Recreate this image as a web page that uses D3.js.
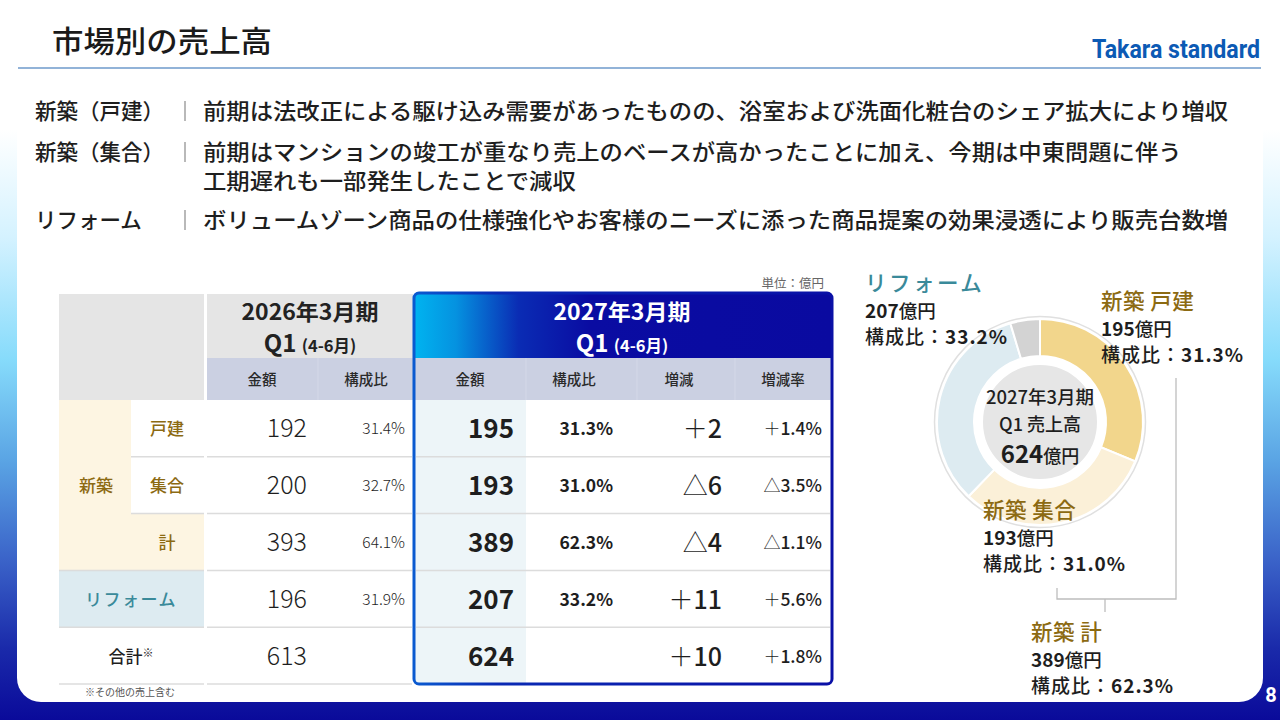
<!DOCTYPE html>
<html><head><meta charset="utf-8">
<script src="https://cdn.jsdelivr.net/npm/d3@7"></script>
<style>
body{margin:0;background:#fff}
svg{display:block}
text{font-family:"Noto Sans CJK JP","Noto Sans",sans-serif}
</style>
</head><body>
<svg id="c" width="1280" height="720"></svg>
<script>
// ---------------- data ----------------
const pageTitle = "市場別の売上高";
const brand = "Takara standard";
const pageNo = "8";
const commentLabels = ["新築（戸建）", "新築（集合）", "リフォーム"];
const commentTexts = [
  ["前期は法改正による駆け込み需要があったものの、浴室および洗面化粧台のシェア拡大により増収"],
  ["前期はマンションの竣工が重なり売上のベースが高かったことに加え、今期は中東問題に伴う", "工期遅れも一部発生したことで減収"],
  ["ボリュームゾーン商品の仕様強化やお客様のニーズに添った商品提案の効果浸透により販売台数増"]
];
const unitLabel = "単位：億円";
const prevPeriod = ["2026年3月期", "Q1", "(4-6月)"];
const curPeriod = ["2027年3月期", "Q1", "(4-6月)"];
const prevColumns = ["金額", "構成比"];
const curColumns = ["金額", "構成比", "増減", "増減率"];
const rowKeys = ["戸建", "集合", "計", "リフォーム", "合計"];
const groupLabel = "新築";
const prevAmount = [192, 200, 393, 196, 613];
const prevShare = ["31.4%", "32.7%", "64.1%", "31.9%", ""];
const curAmount = [195, 193, 389, 207, 624];
const curShare = ["31.3%", "31.0%", "62.3%", "33.2%", ""];
const changeSign = ["＋", "△", "△", "＋", "＋"];
const changeValue = ["2", "6", "4", "11", "10"];
const rateSign = ["＋", "△", "△", "＋", "＋"];
const rateValue = ["1.4%", "3.5%", "1.1%", "5.6%", "1.8%"];
const footnote = "※その他の売上含む";

const donutNames = ["新築 戸建", "新築 集合", "リフォーム", "その他"];
const donutValues = [195, 193, 207, 29];
const donutShares = ["31.3%", "31.0%", "33.2%", ""];
const donutColors = ["#f2d68c", "#fbf0d8", "#ddebf1", "#d3d3d3"];
const centerLines = ["2027年3月期", "Q1 売上高"];
const centerTotal = 624;
const newBuildTotal = ["新築 計", 389, "62.3%"];

// ---------------- helpers ----------------
const svg = d3.select("#c");
const defs = svg.append("defs");
const GOLD = "#8c6a12", TEAL = "#3a8a9a", INK = "#1e1e1e";

const bg = defs.append("linearGradient").attr("id", "bg").attr("x1", 0).attr("y1", 0).attr("x2", 0).attr("y2", 1);
[[0, "#ffffff"], [0.18, "#ffffff"], [0.33, "#d4f2ff"], [0.5, "#86dbfb"], [0.64, "#5aa4e4"], [0.78, "#3a62c8"], [0.9, "#1a2aaa"], [1, "#0a0a9a"]]
  .forEach(([o, c]) => bg.append("stop").attr("offset", o).attr("stop-color", c));
const hg = defs.append("linearGradient").attr("id", "hg").attr("x1", 0).attr("y1", 0).attr("x2", 1).attr("y2", 0);
[[0, "#00b4f0"], [0.1, "#0592e0"], [0.25, "#0a2cb4"], [0.42, "#0a0ca2"], [1, "#0a0aa0"]]
  .forEach(([o, c]) => hg.append("stop").attr("offset", o).attr("stop-color", c));
const bg2 = defs.append("linearGradient").attr("id", "bd").attr("x1", 0).attr("y1", 0).attr("x2", 1).attr("y2", 0);
[[0, "#0a5ad0"], [0.2, "#0a2ab4"], [1, "#0a10a6"]]
  .forEach(([o, c]) => bg2.append("stop").attr("offset", o).attr("stop-color", c));

// background + panel
svg.append("rect").attr("width", 1280).attr("height", 720).attr("fill", "url(#bg)");
svg.append("rect").attr("x", 17).attr("y", -40).attr("width", 1246).attr("height", 742).attr("rx", 24).attr("fill", "#fff");
svg.append("text").attr("x", 1271).attr("y", 702).attr("text-anchor", "middle")
  .style("font-family", "Roboto, 'Liberation Sans', sans-serif")
  .attr("font-size", 20).attr("font-weight", 700).attr("fill", "#fff").text(pageNo);

// header
svg.append("text").attr("x", 52).attr("y", 52).attr("font-size", 30).attr("font-weight", 500)
  .attr("fill", "#1a1a1a").attr("textLength", 220).attr("lengthAdjust", "spacingAndGlyphs").text(pageTitle);
svg.append("text").attr("x", 1092).attr("y", 58)
  .style("font-family", "Roboto, 'Liberation Sans', sans-serif")
  .attr("font-size", 25).attr("font-weight", 700).attr("fill", "#0c5ab4")
  .attr("textLength", 168).attr("lengthAdjust", "spacingAndGlyphs").text(brand);
svg.append("line").attr("x1", 18).attr("x2", 1261).attr("y1", 68).attr("y2", 68)
  .attr("stroke", "#92b3d8").attr("stroke-width", 2);

// comments
const lineY = [[111], [152, 181], [220]];
commentLabels.forEach((lab, i) => {
  svg.append("text").attr("x", 35).attr("y", lineY[i][0] + 8).attr("font-size", 21.5).attr("font-weight", 500)
    .attr("fill", INK).text(lab);
  svg.append("line").attr("x1", 185).attr("x2", 185).attr("y1", lineY[i][0] - 10).attr("y2", lineY[i][0] + 10)
    .attr("stroke", "#8a8a8a").attr("stroke-width", 1.2);
  commentTexts[i].forEach((t, j) => {
    svg.append("text").attr("x", 203).attr("y", lineY[i][j] + 8).attr("font-size", 21.5)
      .attr("font-weight", 500).attr("fill", INK)
      .attr("textLength", t.length * 23.3).attr("lengthAdjust", "spacingAndGlyphs").text(t);
  });
});

// ---------------- table ----------------
const y = d3.scaleBand().domain(rowKeys).range([400, 684]);
const yc = k => y(k) + y.bandwidth() / 2;

svg.append("rect").attr("x", 59).attr("y", 294).attr("width", 145).attr("height", 106).attr("fill", "#e5e5e5");
svg.append("rect").attr("x", 207).attr("y", 294).attr("width", 206).attr("height", 64).attr("fill", "#e5e5e5");
svg.append("rect").attr("x", 207).attr("y", 358).attr("width", 206).attr("height", 42).attr("fill", "#cbd0e2");
svg.append("line").attr("x1", 318).attr("x2", 318).attr("y1", 358).attr("y2", 400).attr("stroke", "#d4d8e8").attr("stroke-width", 1);

svg.append("rect").attr("x", 59).attr("y", y("戸建")).attr("width", 72).attr("height", y.bandwidth() * 3).attr("fill", "#fdf5e2");
svg.append("rect").attr("x", 131).attr("y", y("計")).attr("width", 73).attr("height", y.bandwidth()).attr("fill", "#fdf5e2");
svg.append("rect").attr("x", 59).attr("y", y("リフォーム")).attr("width", 145).attr("height", y.bandwidth()).attr("fill", "#ddebf1");

svg.append("rect").attr("x", 414).attr("y", 293).attr("width", 418).attr("height", 66).attr("rx", 5).attr("fill", "url(#hg)");
svg.append("rect").attr("x", 414).attr("y", 352).attr("width", 418).attr("height", 8).attr("fill", "url(#hg)");
svg.append("rect").attr("x", 415).attr("y", 358).attr("width", 416).attr("height", 42).attr("fill", "#cbd0e2");
svg.append("rect").attr("x", 415).attr("y", 400).attr("width", 111).attr("height", 283).attr("fill", "#edf5f8");
[526, 637, 735].forEach(xv => svg.append("line").attr("x1", xv).attr("x2", xv).attr("y1", 358).attr("y2", 400)
  .attr("stroke", "#d4d8e8").attr("stroke-width", 1));

rowKeys.forEach((k, i) => {
  const yy = y(k) + y.bandwidth();
  const x0 = (i < 2) ? 131 : 59;
  svg.append("line").attr("x1", x0).attr("x2", 204).attr("y1", yy).attr("y2", yy).attr("stroke", "#dcdcdc").attr("stroke-width", 1.5);
  svg.append("line").attr("x1", 207).attr("x2", 412).attr("y1", yy).attr("y2", yy).attr("stroke", "#dcdcdc").attr("stroke-width", 1.5);
  if (i < 4) svg.append("line").attr("x1", 416).attr("x2", 830).attr("y1", yy).attr("y2", yy).attr("stroke", "#dcdcdc").attr("stroke-width", 1.5);
});

svg.append("rect").attr("x", 414).attr("y", 293).attr("width", 418).attr("height", 391).attr("rx", 5)
  .attr("fill", "none").attr("stroke", "url(#bd)").attr("stroke-width", 3);

svg.append("text").attr("x", 824).attr("y", 288).attr("text-anchor", "end").attr("font-size", 12.5)
  .attr("fill", "#666").text(unitLabel);

function periodHeader(cx, p, col) {
  svg.append("text").attr("x", cx).attr("y", 320).attr("text-anchor", "middle").attr("font-size", 22)
    .attr("font-weight", 700).attr("fill", col).attr("textLength", 137).attr("lengthAdjust", "spacingAndGlyphs").text(p[0]);
  const t = svg.append("text").attr("x", cx).attr("y", 352).attr("text-anchor", "middle").attr("fill", col).attr("font-weight", 700);
  t.append("tspan").attr("font-size", 24).text(p[1] + " ");
  t.append("tspan").attr("font-size", 16.5).text(p[2]);
}
periodHeader(310, prevPeriod, "#222");
periodHeader(622, curPeriod, "#fff");

const prevColX = d3.scaleOrdinal().domain(prevColumns).range([262, 366]);
const curColX = d3.scaleOrdinal().domain(curColumns).range([470, 574, 679, 783]);
prevColumns.forEach(c => svg.append("text").attr("x", prevColX(c)).attr("y", 385).attr("text-anchor", "middle")
  .attr("font-size", 14.5).attr("font-weight", 500).attr("fill", "#2a2a2a").text(c));
curColumns.forEach(c => svg.append("text").attr("x", curColX(c)).attr("y", 385).attr("text-anchor", "middle")
  .attr("font-size", 14.5).attr("font-weight", 500).attr("fill", "#2a2a2a").text(c));

svg.append("text").attr("x", 96).attr("y", yc("集合") + 7).attr("text-anchor", "middle").attr("font-size", 17)
  .attr("font-weight", 500).attr("fill", GOLD).text(groupLabel);
["戸建", "集合", "計"].forEach(k => svg.append("text").attr("x", 167).attr("y", yc(k) + 7).attr("text-anchor", "middle")
  .attr("font-size", 17).attr("font-weight", 500).attr("fill", GOLD).text(k));
svg.append("text").attr("x", 131).attr("y", yc("リフォーム") + 7).attr("text-anchor", "middle").attr("font-size", 17)
  .attr("font-weight", 500).attr("fill", TEAL).attr("letter-spacing", 1.5).text("リフォーム");
const tt = svg.append("text").attr("x", 131).attr("y", yc("合計") + 7).attr("text-anchor", "middle")
  .attr("font-weight", 500).attr("fill", INK);
tt.append("tspan").attr("font-size", 17).text("合計");
tt.append("tspan").attr("font-size", 11).attr("dy", -6).text("※");

const prevRight = d3.scaleOrdinal().domain(prevColumns).range([307, 405]);
const curRight = d3.scaleOrdinal().domain(curColumns).range([514, 613, 722, 822]);
rowKeys.forEach((k, i) => {
  const cy = yc(k);
  svg.append("text").attr("x", prevRight("金額")).attr("y", cy + 9).attr("text-anchor", "end")
    .attr("font-size", 25).attr("font-weight", 300).attr("fill", INK).text(prevAmount[i]);
  svg.append("text").attr("x", prevRight("構成比")).attr("y", cy + 6).attr("text-anchor", "end")
    .attr("font-size", 15.5).attr("font-weight", 300).attr("fill", INK).text(prevShare[i]);
  svg.append("text").attr("x", curRight("金額")).attr("y", cy + 10).attr("text-anchor", "end")
    .attr("font-size", 26).attr("font-weight", 700).attr("fill", INK).text(curAmount[i]);
  svg.append("text").attr("x", curRight("構成比")).attr("y", cy + 7).attr("text-anchor", "end")
    .attr("font-size", 17.5).attr("font-weight", 700).attr("fill", INK).text(curShare[i]);
  const c = svg.append("text").attr("x", curRight("増減")).attr("y", cy + 10).attr("text-anchor", "end").attr("fill", INK);
  c.append("tspan").attr("font-size", 25).attr("font-weight", 300).text(changeSign[i]);
  c.append("tspan").attr("font-size", 25).attr("font-weight", 500).text(changeValue[i]);
  const r = svg.append("text").attr("x", curRight("増減率")).attr("y", cy + 7).attr("text-anchor", "end").attr("fill", INK);
  r.append("tspan").attr("font-size", 17).attr("font-weight", 300).text(rateSign[i]);
  r.append("tspan").attr("font-size", 17.5).attr("font-weight", 500).text(rateValue[i]);
});
svg.append("text").attr("x", 85).attr("y", 696).attr("font-size", 10).attr("fill", "#555").text(footnote);

// ---------------- donut ----------------
const cx = 1040, cyD = 422;
const g = svg.append("g").attr("transform", `translate(${cx},${cyD})`);
g.append("circle").attr("r", 105.5).attr("fill", "#fff").attr("stroke", "#e0e0e0").attr("stroke-width", 1.5);
const pie = d3.pie().sort(null).value(d => d);
const arc = d3.arc().innerRadius(66).outerRadius(103);
g.selectAll("path.s").data(pie(donutValues)).join("path").attr("class", "s")
  .attr("d", arc).attr("fill", (d, i) => donutColors[i]).attr("stroke", "#fff").attr("stroke-width", 2);
g.append("circle").attr("r", 58).attr("fill", "#e6e6e6").attr("stroke", "#fff").attr("stroke-width", 2);
g.append("text").attr("y", -18).attr("text-anchor", "middle").attr("font-size", 18).attr("font-weight", 500)
  .attr("fill", INK).attr("textLength", 108).attr("lengthAdjust", "spacingAndGlyphs").text(centerLines[0]);
g.append("text").attr("y", 9).attr("text-anchor", "middle").attr("font-size", 18).attr("font-weight", 500)
  .attr("fill", INK).text(centerLines[1]);
const ct = g.append("text").attr("y", 41).attr("text-anchor", "middle").attr("fill", INK);
ct.append("tspan").attr("font-size", 24).attr("font-weight", 700).text(centerTotal);
ct.append("tspan").attr("font-size", 18).attr("font-weight", 500).text("億円");

function donutLabel(x, yTop, name, value, share, color) {
  svg.append("text").attr("x", x).attr("y", yTop).attr("font-size", 21.5).attr("font-weight", 500)
    .attr("fill", color).attr("letter-spacing", name === "リフォーム" ? 2.5 : 0.5).text(name);
  const v = svg.append("text").attr("x", x).attr("y", yTop + 27).attr("fill", INK);
  v.append("tspan").attr("font-size", 19).attr("font-weight", 700).text(value);
  v.append("tspan").attr("font-size", 18.5).attr("font-weight", 500).text("億円");
  const s = svg.append("text").attr("x", x).attr("y", yTop + 53).attr("fill", INK).attr("letter-spacing", 1);
  s.append("tspan").attr("font-size", 19).attr("font-weight", 500).text("構成比：");
  s.append("tspan").attr("font-size", 19).attr("font-weight", 700).text(share);
}
donutLabel(865, 291, donutNames[2], donutValues[2], donutShares[2], TEAL);
donutLabel(1101, 309, donutNames[0], donutValues[0], donutShares[0], GOLD);
donutLabel(983, 518, donutNames[1], donutValues[1], donutShares[1], GOLD);
donutLabel(1031, 640, newBuildTotal[0], newBuildTotal[1], newBuildTotal[2], GOLD);

const br = d3.path();
br.moveTo(1176, 378); br.lineTo(1176, 599); br.lineTo(1057, 599); br.lineTo(1057, 588);
br.moveTo(1105, 599); br.lineTo(1105, 612);
svg.append("path").attr("d", br.toString()).attr("fill", "none").attr("stroke", "#bdbdbd").attr("stroke-width", 1.3);
</script>
</body></html>
